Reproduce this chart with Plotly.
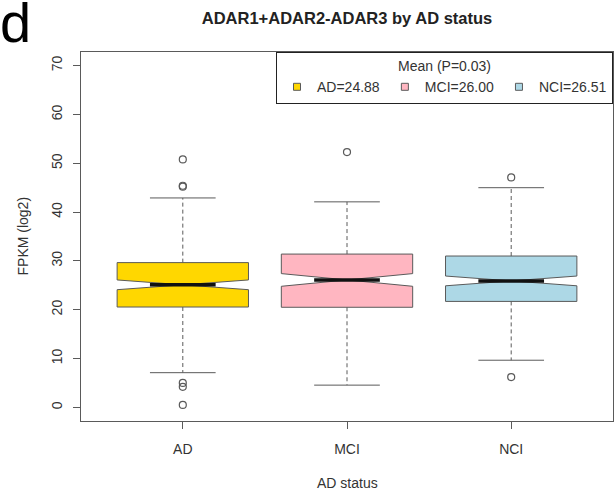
import plotly.graph_objects as go

# ---- data ----
categories = ["AD", "MCI", "NCI"]
legend_labels = ["AD=24.88", "MCI=26.00", "NCI=26.51"]
q1 = [20.55, 20.5, 21.7]
median = [25.1, 26.1, 25.9]
q3 = [29.65, 31.4, 31.0]
lower_whisker = [7.1, 4.55, 9.65]
upper_whisker = [42.9, 42.1, 45.0]
notch_half = [1.0, 1.3, 1.0]
outliers = [[50.8, 45.2, 45.4, 5.0, 4.2, 0.5], [52.3], [47.1, 6.2]]
colors = ["#FFD700", "#FFB6C1", "#ADD8E6"]
y_ticks = [0, 10, 20, 30, 40, 50, 60, 70]

FONT = "Liberation Sans, Arial, sans-serif"
EDGE = "#5a5a5a"
TXT = "#333333"
positions = list(range(1, len(categories) + 1))

fig = go.Figure()

for i, p in enumerate(positions):
    fig.add_trace(go.Box(
        x=[p], q1=[q1[i]], median=[median[i]], q3=[q3[i]],
        lowerfence=[q1[i]], upperfence=[q3[i]],
        notched=True, notchspan=[notch_half[i]], notchwidth=0.5,
        width=0.8, whiskerwidth=0,
        fillcolor=colors[i], line=dict(color=EDGE, width=1),
        name=categories[i], boxpoints=False, showlegend=False,
        hoverinfo="skip",
    ))

for i, p in enumerate(positions):
    # dashed whisker stems
    fig.add_trace(go.Scatter(
        x=[p, p, None, p, p],
        y=[q3[i], upper_whisker[i], None, q1[i], lower_whisker[i]],
        mode="lines", line=dict(color=EDGE, width=1, dash="4px,3px"),
        showlegend=False, hoverinfo="skip"))
    # whisker caps
    fig.add_trace(go.Scatter(
        x=[p - 0.2, p + 0.2, None, p - 0.2, p + 0.2],
        y=[upper_whisker[i], upper_whisker[i], None, lower_whisker[i], lower_whisker[i]],
        mode="lines", line=dict(color=EDGE, width=1),
        showlegend=False, hoverinfo="skip"))
    # bold median
    fig.add_trace(go.Scatter(
        x=[p - 0.2, p + 0.2], y=[median[i], median[i]],
        mode="lines", line=dict(color="#111111", width=3.5),
        showlegend=False, hoverinfo="skip"))
    # outliers
    fig.add_trace(go.Scatter(
        x=[p] * len(outliers[i]), y=outliers[i], mode="markers",
        marker=dict(symbol="circle-open", size=7, color=EDGE, line=dict(width=1.2)),
        showlegend=False, hoverinfo="skip"))

# legend keys (small filled squares, like R's legend fill)
for i in range(len(categories)):
    fig.add_trace(go.Scatter(
        x=[None], y=[None], mode="markers", name=legend_labels[i],
        marker=dict(symbol="square", size=7, color=colors[i],
                    line=dict(color=EDGE, width=1)),
        showlegend=True, hoverinfo="skip"))

fig.update_layout(
    width=616, height=498,
    margin=dict(l=81, r=3, t=52, b=77),
    paper_bgcolor="white", plot_bgcolor="white",
    font=dict(family=FONT, size=14, color=TXT),
    title=dict(text="<b>ADAR1+ADAR2-ADAR3 by AD status</b>",
               x=0.5, xref="paper", xanchor="center",
               y=1 - 18 / 498, yanchor="middle",
               font=dict(size=16.5, color="#222222")),
    legend=dict(
        orientation="h", x=1, xanchor="right", y=1, yanchor="top",
        bordercolor="#222222", borderwidth=1, bgcolor="white",
        title=dict(text="Mean (P=0.03)", side="top center", font=dict(size=14)),
        font=dict(size=14), itemwidth=30, tracegroupgap=0,
    ),
    xaxis=dict(
        range=[0.38, 3.62], tickmode="array", tickvals=positions, ticktext=categories,
        ticks="outside", ticklen=7, tickcolor=EDGE, showgrid=False, zeroline=False,
        showline=True, mirror=True, linecolor=EDGE, linewidth=1,
        ticklabelstandoff=8, tickfont=dict(size=14),
    ),
    yaxis=dict(
        range=[-2.8, 72.8], tickmode="array", tickvals=y_ticks,
        ticks="outside", ticklen=7, tickcolor=EDGE, showgrid=False, zeroline=False,
        showline=True, mirror=True, linecolor=EDGE, linewidth=1, tickangle=-90,
        ticklabelstandoff=5, tickfont=dict(size=14),
    ),
    annotations=[
        dict(text="d", xref="paper", yref="paper", x=-83 / 532, y=1 + (52 - 23) / 369,
             xanchor="left", yanchor="middle", showarrow=False,
             font=dict(family=FONT, size=56, color="black")),
        dict(text="AD status", xref="paper", yref="paper", x=0.5, y=(421 - 483) / 369,
             xanchor="center", yanchor="middle", showarrow=False,
             font=dict(size=14, color=TXT)),
        dict(text="FPKM (log2)", xref="paper", yref="paper", x=(22 - 81) / 532, y=0.5,
             xanchor="center", yanchor="middle", textangle=-90, showarrow=False,
             font=dict(size=14, color=TXT)),
    ],
)

fig.write_html("out.html")
